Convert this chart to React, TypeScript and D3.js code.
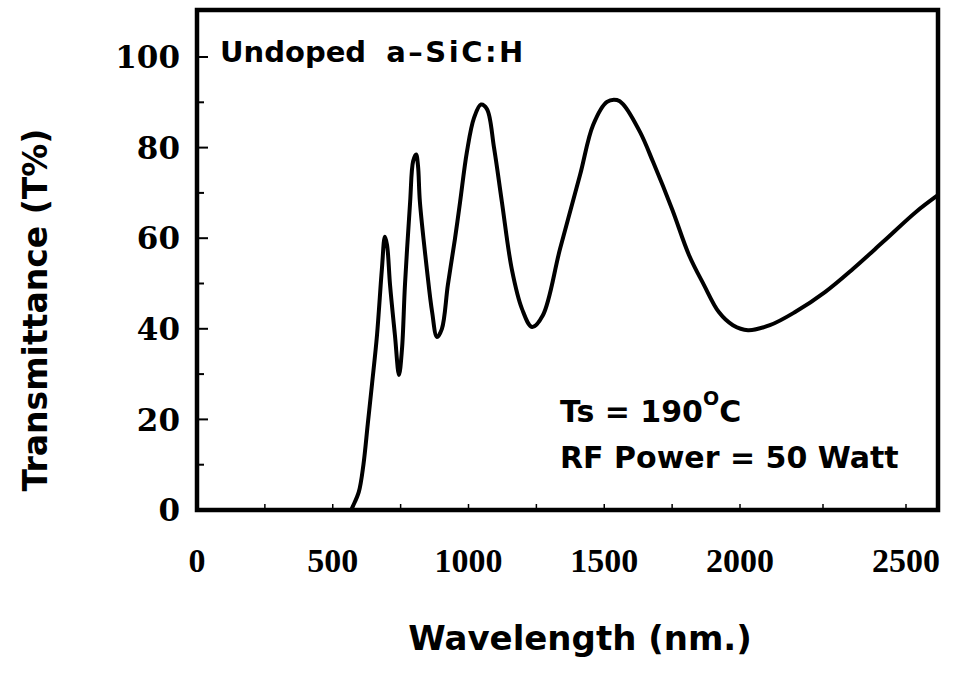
import React from "react";
import * as d3 from "d3";

// transmittance spectrum
const wavelength = [
  568, 574, 596, 613, 629, 645, 663, 681, 692, 700, 711, 729, 744, 755, 766, 785, 796, 807, 814, 821,
  847, 866, 884, 902, 924, 950, 969, 994, 1020, 1046, 1068, 1094, 1123, 1160, 1197, 1234, 1274, 1337,
  1411, 1459, 1510, 1547, 1569, 1632, 1680, 1750, 1812, 1867, 1922, 1974, 2024, 2090, 2166, 2256,
  2340, 2431, 2530, 2596,
];
const transmittance = [
  0, 0.8, 4, 10, 19, 28, 38.6, 53.2, 60.3, 58.5, 49.7, 38.6, 29.8, 35.5, 49.7, 68, 77, 78.5, 76, 68,
  53, 43.7, 38.2, 40, 49.7, 59.8, 68, 79, 86.5, 89.5, 88.5, 80, 68, 53, 44.4, 40.4, 43, 57.6,
  74, 85, 90.1, 90.5, 89.6, 83.4, 76.8, 66.4, 56.3, 49.7, 43.7, 40.8, 39.7, 40.8, 43.7, 48.1,
  53.2, 59.2, 65.8, 69.5,
];
const xTicks = [0, 500, 1000, 1500, 2000, 2500];
const yTicks = [0, 20, 40, 60, 80, 100];

const W = 957;
const H = 677;
const plot = { left: 197, right: 938, top: 10, bottom: 510 };
const sans = "'DejaVu Sans', sans-serif";
const serif = "'Liberation Serif', serif";
const wideSerif = "'DejaVu Serif', serif";

export default function App() {
  // the printed axis is not evenly spaced past 2000, so a polylinear scale follows it
  const x = d3.scaleLinear().domain([0, 2000, 2500]).range([plot.left, 740, 906]);
  const y = d3.scaleLinear().domain([0, 100]).range([plot.bottom, 57]);

  const pts: [number, number][] = wavelength.map((w, i) => [w, transmittance[i]]);
  const line = d3
    .line<[number, number]>()
    .x((d) => x(d[0]))
    .y((d) => y(d[1]))
    .curve(d3.curveCatmullRom.alpha(0.5));

  const minorX = d3.range(250, 2750, 250);
  const minorY = d3.range(10, 110, 10);

  return (
    <svg
      width={W}
      height={H}
      style={{ position: "absolute", left: 0, top: 0, background: "#fff" }}
    >
      {/* frame */}
      <rect
        x={plot.left}
        y={plot.top}
        width={plot.right - plot.left}
        height={plot.bottom - plot.top}
        fill="none"
        stroke="#000"
        strokeWidth={4.5}
      />

      {/* y ticks, inward */}
      {minorY.map((v) => (
        <line
          key={"yt" + v}
          x1={plot.left}
          x2={plot.left + (v % 20 === 0 ? 11 : 7)}
          y1={y(v)}
          y2={y(v)}
          stroke="#000"
          strokeWidth={2}
        />
      ))}
      {/* x ticks, inward */}
      {minorX.filter((v) => x(v) < plot.right - 5).map((v) => (
        <line
          key={"xt" + v}
          x1={x(v)}
          x2={x(v)}
          y1={plot.bottom}
          y2={plot.bottom - 6}
          stroke="#000"
          strokeWidth={1.5}
        />
      ))}

      {/* tick labels */}
      {yTicks.map((v) => (
        <text
          key={"yl" + v}
          x={180}
          y={y(v)}
          dy="0.36em"
          textAnchor="end"
          fontFamily={wideSerif}
          fontWeight="bold"
          fontSize={31}
        >
          {v}
        </text>
      ))}
      {xTicks.map((v) => (
        <text
          key={"xl" + v}
          x={x(v)}
          y={572}
          textAnchor="middle"
          fontFamily={serif}
          fontWeight="bold"
          fontSize={34}
        >
          {v}
        </text>
      ))}

      {/* curve */}
      <path
        d={line(pts) || ""}
        fill="none"
        stroke="#000"
        strokeWidth={4}
        strokeLinejoin="round"
        strokeLinecap="round"
      />

      {/* annotations */}
      <text x={220} y={62} fontFamily={sans} fontWeight="bold" fontSize={29} style={{ whiteSpace: "pre" }}>
        {"Undoped  "}
        <tspan letterSpacing={2.5}>{"a\u2013SiC:H"}</tspan>
      </text>
      <text x={560} y={422} fontFamily={sans} fontWeight="bold" fontSize={30} style={{ whiteSpace: "pre" }}>
        {"Ts = 190"}
        <tspan fontSize={19} dy={-17}>O</tspan>
        <tspan dy={17}>C</tspan>
      </text>
      <text x={560} y={468} fontFamily={sans} fontWeight="bold" fontSize={30} style={{ whiteSpace: "pre" }}>
        {"RF Power = 50 Watt"}
      </text>

      {/* axis titles */}
      <text
        transform="translate(47, 310) rotate(-90)"
        textAnchor="middle"
        fontFamily={sans}
        fontWeight="bold"
        fontSize={33}
      >
        Transmittance (T%)
      </text>
      <text
        x={580}
        y={650}
        textAnchor="middle"
        fontFamily={sans}
        fontWeight="bold"
        fontSize={34}
      >
        Wavelength (nm.)
      </text>
    </svg>
  );
}
